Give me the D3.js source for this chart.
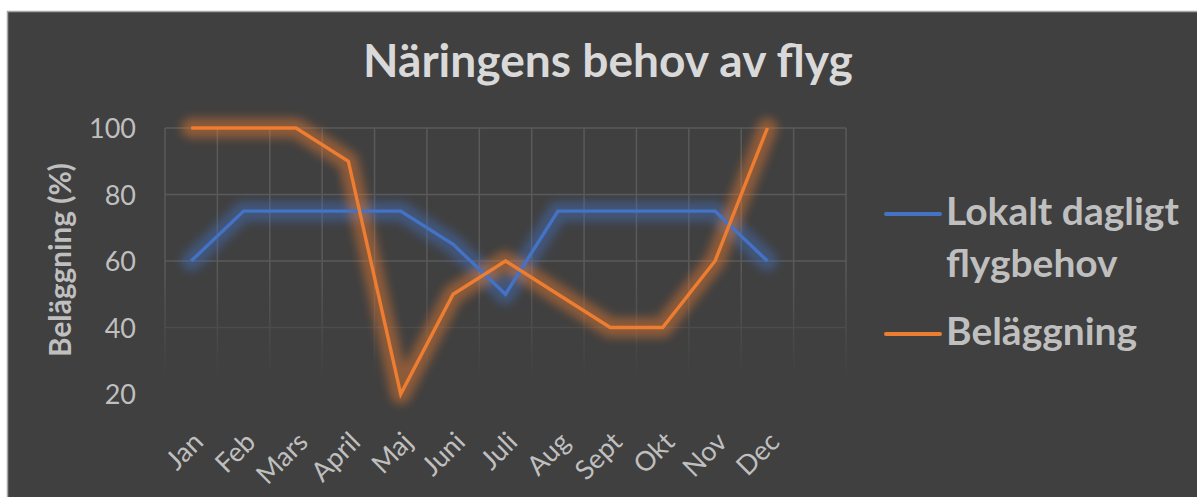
<!DOCTYPE html>
<html>
<head>
<meta charset="utf-8">
<script src="https://cdn.jsdelivr.net/npm/d3@7"></script>
<style>
  body { margin: 0; background: #fff; }
  text { font-family: Lato, "Open Sans", sans-serif; }
</style>
</head>
<body>
<script>
const w = 1197;
const h = 497;

const months = ['Jan', 'Feb', 'Mars', 'April', 'Maj', 'Juni', 'Juli', 'Aug', 'Sept', 'Okt', 'Nov', 'Dec'];
const flygbehov = [60, 75, 75, 75, 75, 65, 50, 75, 75, 75, 75, 60];
const belaggning = [100, 100, 100, 90, 20, 50, 60, 50, 40, 40, 60, 100];
const yTicks = [20, 40, 60, 80, 100];

const series = [
    {name: 'Lokalt dagligt flygbehov', lines: ['Lokalt dagligt', 'flygbehov'], values: flygbehov, color: '#4472C4'},
    {name: 'Beläggning', lines: ['Beläggning'], values: belaggning, color: '#ED7D31'}
];

// set font size so the text is as wide as the target
function fitWidth(sel, target) {
    const size = parseFloat(sel.attr('font-size'));
    const len = sel.node().getComputedTextLength();
    sel.attr('font-size', size * target / len);
}

const svg = d3.select('body').append('svg').attr('width', w).attr('height', h);

const defs = svg.append('defs');
defs.append('filter').attr('id', 'glow')
    .attr('x', -0.2).attr('y', -0.3).attr('width', 1.4).attr('height', 1.6)
    .append('feGaussianBlur').attr('stdDeviation', 5);

const fade = defs.append('linearGradient').attr('id', 'fade')
    .attr('gradientUnits', 'userSpaceOnUse')
    .attr('x1', 0).attr('x2', 0).attr('y1', 128).attr('y2', 380);
fade.append('stop').attr('offset', 0).attr('stop-color', '#fff');
fade.append('stop').attr('offset', 0.55).attr('stop-color', '#fff');
fade.append('stop').attr('offset', 1).attr('stop-color', '#000');
defs.append('mask').attr('id', 'gridmask')
    .attr('maskUnits', 'userSpaceOnUse')
    .attr('x', 0).attr('y', 0).attr('width', w).attr('height', h)
    .append('rect').attr('width', w).attr('height', h).attr('fill', 'url(#fade)');

svg.append('rect')
    .attr('x', 7.5).attr('y', 11.5)
    .attr('width', w).attr('height', h)
    .attr('fill', '#404040')
    .attr('stroke', '#A6A6A6')
    .attr('stroke-width', 1.5);

// 13 slots, last one empty like in the sheet
const x = d3.scaleBand().domain(months.concat([' '])).range([165, 846]);
const y = d3.scaleLinear().domain([20, 100]).range([394, 128]);
const cx = m => x(m) + x.bandwidth() / 2;

// grid
const grid = svg.append('g').attr('mask', 'url(#gridmask)')
    .attr('stroke', '#5A5A5A').attr('stroke-width', 1.5);
grid.selectAll('line.v')
    .data(x.domain().concat(['end']))
    .enter().append('line')
    .attr('class', 'v')
    .attr('x1', (d, i) => 165 + i * x.bandwidth())
    .attr('x2', (d, i) => 165 + i * x.bandwidth())
    .attr('y1', y(100)).attr('y2', y(20));
grid.selectAll('line.h')
    .data(yTicks)
    .enter().append('line')
    .attr('class', 'h')
    .attr('x1', 165).attr('x2', 846)
    .attr('y1', d => y(d)).attr('y2', d => y(d));

// y axis
const yAxis = svg.append('g')
    .attr('transform', 'translate(136,0)')
    .call(d3.axisLeft(y).tickValues(yTicks).tickSize(0).tickPadding(0));
yAxis.select('.domain').remove();
yAxis.selectAll('text')
    .attr('font-size', 27)
    .attr('font-family', 'Lato, sans-serif')
    .attr('fill', '#BFBFBF')
    .attr('dy', '0.36em');

// x axis
const xAxis = svg.append('g')
    .attr('transform', 'translate(0,406)')
    .call(d3.axisBottom(x).tickSize(0).tickPadding(0));
xAxis.select('.domain').remove();
xAxis.selectAll('text')
    .attr('font-size', 27)
    .attr('font-family', 'Lato, sans-serif')
    .attr('fill', '#BFBFBF')
    .attr('text-anchor', 'end')
    .attr('dy', '0.35em')
    .attr('transform', 'translate(7,31) rotate(-45)');

// lines with glow
const line = d3.line()
    .x((d, i) => cx(months[i]))
    .y(d => y(d));

series.forEach(s => {
    svg.append('path')
        .attr('d', line(s.values))
        .attr('fill', 'none')
        .attr('stroke', s.color)
        .attr('stroke-width', 20)
        .attr('stroke-linejoin', 'round')
        .attr('stroke-linecap', 'round')
        .attr('opacity', 0.45)
        .attr('filter', 'url(#glow)');
});
series.forEach(s => {
    svg.append('path')
        .attr('d', line(s.values))
        .attr('fill', 'none')
        .attr('stroke', s.color)
        .attr('stroke-width', 3.4);
});

// title
const title = svg.append('text')
    .attr('x', 608).attr('y', 77)
    .attr('text-anchor', 'middle')
    .attr('font-size', 44)
    .attr('font-weight', 'bold')
    .attr('fill', '#D9D9D9')
    .text('Näringens behov av flyg');
fitWidth(title, 490);

// y axis title
const yTitle = svg.append('text')
    .attr('transform', 'translate(71,260) rotate(-90)')
    .attr('text-anchor', 'middle')
    .attr('font-size', 28)
    .attr('font-weight', 'bold')
    .attr('fill', '#BFBFBF')
    .text('Beläggning (%)');
fitWidth(yTitle, 194);

// legend
const legendY = [214, 334];
let legendSize = 34;
series.forEach((s, i) => {
    const g = svg.append('g').attr('transform', `translate(0,${legendY[i]})`);
    g.append('line')
        .attr('x1', 886).attr('x2', 940)
        .attr('stroke', s.color).attr('stroke-width', 4)
        .attr('stroke-linecap', 'round');
    const t = g.append('text')
        .attr('x', 946).attr('y', 11)
        .attr('font-size', legendSize)
        .attr('font-weight', 'bold')
        .attr('fill', '#BFBFBF');
    t.selectAll('tspan')
        .data(s.lines)
        .enter().append('tspan')
        .attr('x', 946)
        .attr('dy', (d, j) => j ? 52 : 0)
        .text(d => d);
    if (i === 0) {
        // size from the widest line, then reuse for the other entry
        const len = t.select('tspan').node().getComputedTextLength();
        legendSize = legendSize * 233 / len;
        t.attr('font-size', legendSize);
    }
});
</script>
</body>
</html>
